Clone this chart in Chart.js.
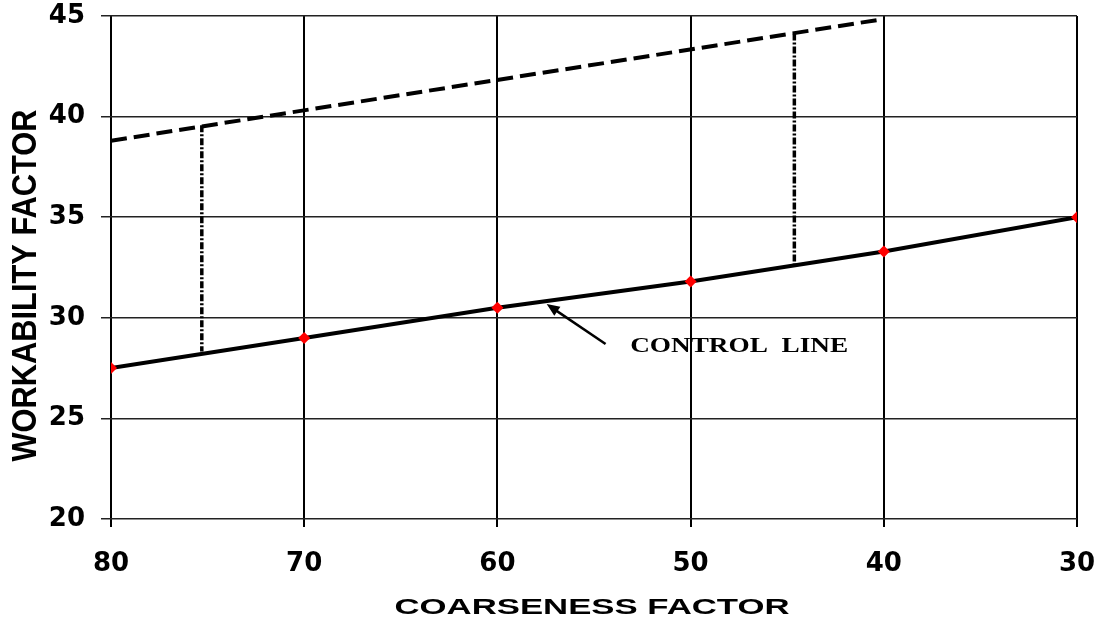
<!DOCTYPE html>
<html>
<head>
<meta charset="utf-8">
<script src="https://cdn.jsdelivr.net/npm/chart.js@4"></script>
<style>
  html, body { margin: 0; padding: 0; background: #fff; }
  #wrap { width: 1101px; height: 622px; position: relative; }
</style>
</head>
<body>
<div id="wrap"><canvas id="chart"></canvas></div>
<script>
// coarseness factor (x) and workability factor (y)
const controlX = [80, 70, 60, 50, 40, 30];
const controlY = [27.5, 29.0, 30.5, 31.8, 33.3, 35.0];

// upper dashed boundary
const upperX = [80, 40];
const upperY = [38.8, 44.85];

// dash-dot vertical markers
const leftMarkX = [75.3, 75.3];
const leftMarkY = [39.57, 28.32];
const rightMarkX = [44.63, 44.63];
const rightMarkY = [44.13, 32.62];

// arrow pointing at control line (tail, head) and its label
const arrowX = [54.4, 57.45];
const arrowY = [28.7, 30.68];
const labelText = "CONTROL  LINE";
const labelX = 53.13;
const labelY = 28.56;

const xTitle = "COARSENESS FACTOR";
const yTitle = "WORKABILITY FACTOR";

function pts(xs, ys) {
    return xs.map((x, i) => ({ x: x, y: ys[i] }));
}

// draws stretched text so its width matches the original
function stretchedText(ctx, text, font, cx, cy, width, rotate) {
    ctx.save();
    ctx.font = font;
    ctx.fillStyle = "#000";
    ctx.textAlign = "center";
    ctx.textBaseline = "middle";
    const w = ctx.measureText(text).width;
    ctx.translate(cx, cy);
    if (rotate) ctx.rotate(-Math.PI / 2);
    ctx.scale(width / w, 1);
    ctx.fillText(text, 0, 0);
    ctx.restore();
}

const extras = {
    id: "extras",
    afterDraw(chart) {
        const ctx = chart.ctx;
        const xs = chart.scales.x, ys = chart.scales.y;
        const area = chart.chartArea;

        // arrow
        const x1 = xs.getPixelForValue(arrowX[0]), y1 = ys.getPixelForValue(arrowY[0]);
        const x2 = xs.getPixelForValue(arrowX[1]), y2 = ys.getPixelForValue(arrowY[1]);
        const ang = Math.atan2(y2 - y1, x2 - x1);
        ctx.save();
        ctx.strokeStyle = "#000";
        ctx.fillStyle = "#000";
        ctx.lineWidth = 2.5;
        ctx.beginPath();
        ctx.moveTo(x1, y1);
        ctx.lineTo(x2 - 8 * Math.cos(ang), y2 - 8 * Math.sin(ang));
        ctx.stroke();
        ctx.beginPath();
        ctx.moveTo(x2, y2);
        ctx.lineTo(x2 - 14 * Math.cos(ang - 0.4), y2 - 14 * Math.sin(ang - 0.4));
        ctx.lineTo(x2 - 14 * Math.cos(ang + 0.4), y2 - 14 * Math.sin(ang + 0.4));
        ctx.closePath();
        ctx.fill();
        ctx.restore();

        // control line label
        const lx = xs.getPixelForValue(labelX);
        stretchedText(ctx, labelText, "bold 21px 'Liberation Serif', serif",
            lx + 109, ys.getPixelForValue(labelY), 218, false);

        // axis titles
        stretchedText(ctx, xTitle, "bold 22px 'Liberation Sans', Arial, sans-serif",
            (area.left + area.right) / 2 - 2, 608, 395, false);
        stretchedText(ctx, yTitle, "bold 35px 'Liberation Sans', Arial, sans-serif",
            26, (area.top + area.bottom) / 2 + 18, 352, true);
    }
};

const lineBase = { fill: false, tension: 0, pointRadius: 0, borderColor: "#000", borderWidth: 4 };

new Chart(document.getElementById("chart"), {
    type: "line",
    data: {
        datasets: [
            Object.assign({}, lineBase, {
                label: "upper",
                data: pts(upperX, upperY),
                borderDash: [16, 7]
            }),
            Object.assign({}, lineBase, {
                label: "left mark",
                data: pts(leftMarkX, leftMarkY),
                borderWidth: 3.5,
                borderDash: [7, 2, 2, 2]
            }),
            Object.assign({}, lineBase, {
                label: "right mark",
                data: pts(rightMarkX, rightMarkY),
                borderWidth: 3.5,
                borderDash: [7, 2, 2, 2]
            }),
            Object.assign({}, lineBase, {
                label: "control line",
                data: pts(controlX, controlY),
                pointRadius: 6,
                pointStyle: "rectRot",
                pointBackgroundColor: "#ff0000",
                pointBorderColor: "#ff0000",
                pointBorderWidth: 0
            })
        ]
    },
    options: {
        responsive: true,
        maintainAspectRatio: false,
        animation: false,
        layout: { padding: { top: 16, right: 24, left: 0, bottom: 0 } },
        plugins: {
            legend: { display: false },
            tooltip: { enabled: false }
        },
        scales: {
            x: {
                type: "linear",
                min: 30,
                max: 80,
                reverse: true,
                border: { display: false },
                grid: { color: "#000", lineWidth: 2, tickLength: 8 },
                ticks: {
                    stepSize: 10,
                    color: "#000",
                    padding: 22,
                    font: { family: "'DejaVu Sans', sans-serif", weight: "bold", size: 26 }
                },
                afterFit(scale) {
                    scale.height = 103;
                    scale.paddingLeft = 0;
                    scale.paddingRight = 0;
                }
            },
            y: {
                min: 20,
                max: 45,
                border: { display: false },
                grid: { color: "#222", lineWidth: 1.5, tickLength: 10 },
                ticks: {
                    stepSize: 5,
                    color: "#000",
                    padding: 16,
                    font: { family: "'DejaVu Sans', sans-serif", weight: "bold", size: 26 }
                },
                afterFit(scale) {
                    scale.width = 111;
                    scale.paddingTop = 0;
                    scale.paddingBottom = 0;
                }
            }
        }
    },
    plugins: [extras]
});
</script>
</body>
</html>
